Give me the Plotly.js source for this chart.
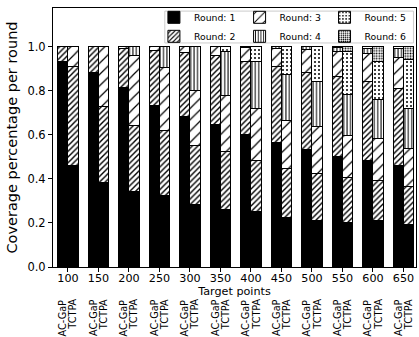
<!DOCTYPE html>
<html><head><meta charset="utf-8">
<script src="https://cdn.plot.ly/plotly-3.0.1.min.js"></script>
<style>html,body{margin:0;padding:0;background:#fff}#chart{width:419px;height:337px}</style>
</head><body><div id="chart"></div>
<script>
// ---- data ----
const targetPoints = ['100','150','200','250','300','350','400','450','500','550','600','650'];
const methods = ['AC-GaP', 'TCTPA'];
const roundNames = ['Round: 1','Round: 2','Round: 3','Round: 4','Round: 5','Round: 6'];

const acgapRound1 = [0.935,0.884,0.814,0.735,0.682,0.649,0.600,0.564,0.534,0.500,0.482,0.462];
const acgapRound2 = [0.065,0.116,0.176,0.250,0.291,0.313,0.335,0.345,0.348,0.364,0.359,0.349];
const acgapRound3 = [0,0,0.010,0.015,0.027,0.038,0.060,0.081,0.106,0.116,0.129,0.140];
const acgapRound4 = [0,0,0,0,0,0,0.005,0.010,0.012,0.015,0.020,0.040];
const acgapRound5 = [0,0,0,0,0,0,0,0,0,0.005,0.010,0.009];
const acgapRound6 = [0,0,0,0,0,0,0,0,0,0,0,0];

const tctpaRound1 = [0.460,0.382,0.345,0.323,0.285,0.262,0.250,0.227,0.212,0.200,0.209,0.194];
const tctpaRound2 = [0.450,0.345,0.296,0.295,0.268,0.264,0.235,0.220,0.212,0.206,0.185,0.170];
const tctpaRound3 = [0.090,0.273,0.321,0.290,0.247,0.251,0.235,0.217,0.216,0.193,0.190,0.174];
const tctpaRound4 = [0,0,0.038,0.092,0.200,0.203,0.212,0.212,0.204,0.185,0.178,0.182];
const tctpaRound5 = [0,0,0,0,0,0.020,0.068,0.124,0.156,0.193,0.170,0.220];
const tctpaRound6 = [0,0,0,0,0,0,0,0,0,0.023,0.068,0.060];

const seriesByMethod = [
  [acgapRound1, acgapRound2, acgapRound3, acgapRound4, acgapRound5, acgapRound6],
  [tctpaRound1, tctpaRound2, tctpaRound3, tctpaRound4, tctpaRound5, tctpaRound6]
];

// ---- styles ----
const FONT = 'DejaVu Sans, sans-serif';
const barWidth = 0.335;
const offsets = [-barWidth/2, barWidth/2];
const roundStyles = [
  {color:'black', pattern:null},
  {color:'white', pattern:{shape:'/', size:4, solidity:0.35, fgcolor:'black', bgcolor:'white'}},
  {color:'white', pattern:{shape:'/', size:8, solidity:0.15, fgcolor:'black', bgcolor:'white'}},
  {color:'white', pattern:{shape:'|', size:3.4, solidity:0.3, fgcolor:'black', bgcolor:'white'}},
  {color:'white', pattern:{shape:'.', size:4, solidity:0.2, fgcolor:'black', bgcolor:'white'}},
  {color:'white', pattern:{shape:'.', size:2.6, solidity:0.35, fgcolor:'black', bgcolor:'white'}}
];
const legendFor = ['legend','legend','legend2','legend2','legend3','legend3'];

const idx = targetPoints.map((_, i) => i);
const traces = [];
methods.forEach((m, mi) => {
  seriesByMethod[mi].forEach((vals, ri) => {
    const st = roundStyles[ri];
    const marker = {color: st.color, line:{color:'black', width:1}};
    if (st.pattern) marker.pattern = st.pattern;
    traces.push({
      type:'bar',
      x: idx.map(i => i + offsets[mi]),
      y: vals,
      width: barWidth,
      name: roundNames[ri],
      legend: legendFor[ri],
      showlegend: mi === 0,
      marker: marker,
      hoverinfo: 'skip'
    });
  });
});

const annotations = [];
idx.forEach(i => {
  methods.forEach((m, mi) => {
    annotations.push({
      x: i + offsets[mi], xref:'x', y: -0.12, yref:'paper',
      text: m, textangle: -90, showarrow:false,
      xanchor:'center', yanchor:'top', borderpad:0,
      font:{family:FONT, size:9.7, color:'black'}
    });
  });
});

const legendBase = {
  orientation:'v', traceorder:'normal', xanchor:'left', yanchor:'top',
  y: 1.02, bgcolor:'rgba(0,0,0,0)', borderwidth:0,
  font:{family:FONT, size:9.3, color:'black'}, itemwidth:30
};

const layout = {
  width:419, height:337,
  margin:{l:53, r:2.5, t:8, b:70.3},
  paper_bgcolor:'white', plot_bgcolor:'white',
  font:{family:FONT, color:'black'},
  barmode:'stack',
  xaxis:{
    range:[-0.49, 11.41], tickmode:'array', tickvals: idx, ticktext: targetPoints,
    showline:true, mirror:true, linecolor:'black', linewidth:1,
    ticks:'outside', ticklen:4, tickcolor:'black', showgrid:false, zeroline:false,
    ticklabelstandoff:-3,
    tickfont:{family:FONT, size:11.2, color:'black'},
    title:{text:'Target points', font:{family:FONT, size:11.2, color:'black'}, standoff:0}
  },
  yaxis:{
    range:[0, 1.176], tickmode:'array', tickvals:[0,0.2,0.4,0.6,0.8,1.0], tickformat:'.1f',
    showline:true, mirror:true, linecolor:'black', linewidth:1,
    ticks:'outside', ticklen:4, tickcolor:'black', showgrid:false, zeroline:false,
    tickfont:{family:FONT, size:11.5, color:'black'},
    title:{text:'Coverage percentage per round', font:{family:FONT, size:14.5, color:'black'}, standoff:6}
  },
  legend: Object.assign({}, legendBase, {x:0.278}),
  legend2: Object.assign({}, legendBase, {x:0.514}),
  legend3: Object.assign({}, legendBase, {x:0.748}),
  shapes:[{
    type:'rect', xref:'paper', yref:'paper', x0:0.308, x1:0.993, y0:0.865, y1:0.988,
    line:{color:'#cccccc', width:1}, fillcolor:'rgba(255,255,255,0.8)', layer:'above'
  }],
  annotations: annotations
};

Plotly.newPlot('chart', traces, layout, {displayModeBar:false, staticPlot:true});
</script>
</body></html>
